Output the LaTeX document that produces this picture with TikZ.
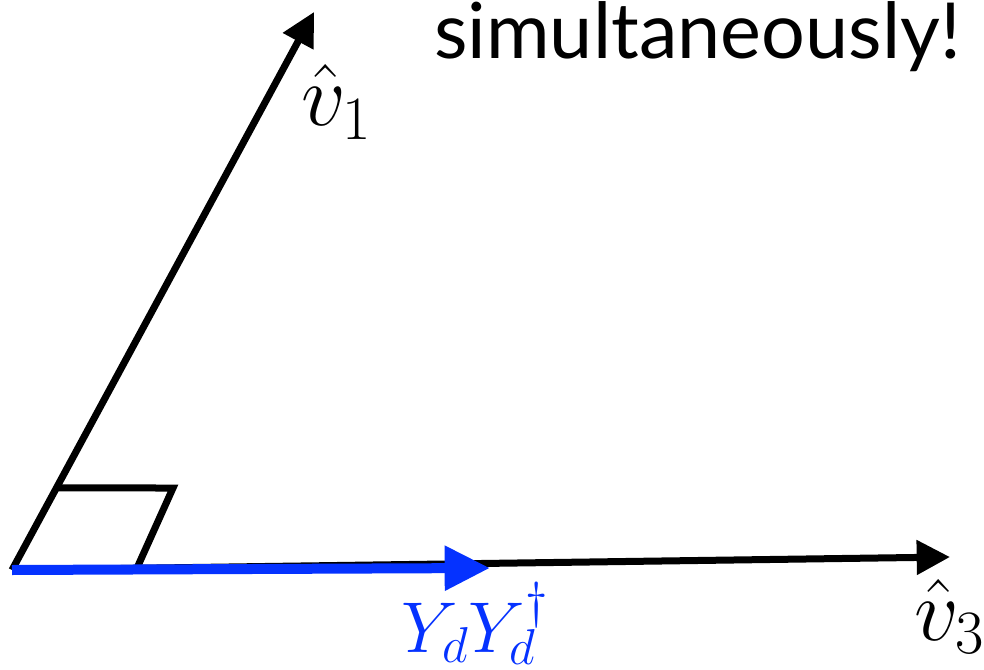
\RequirePackage{fix-cm}
\documentclass[tikz,border=0pt]{standalone}
\usepackage{fontspec}
\newfontfamily\labelsans{Lato}
\usetikzlibrary{arrows.meta,calc}
\definecolor{vecblue}{RGB}{5,50,255}
\begin{document}
\begin{tikzpicture}[x=0.75pt,y=-0.75pt,
  vec/.style={line width=5.25pt,-{Triangle[length=25pt,width=25pt]}},
  bluevec/.style={line width=7.5pt,color=vecblue,-{Triangle[length=34pt,width=32pt]}},
  marker/.style={line width=5.25pt},
  mathlbl/.style={inner sep=0pt,anchor=base west}]
\useasboundingbox (0,0) rectangle (984,670);
\coordinate (O) at (12,570);
\coordinate (A) at (314,12);
\coordinate (B) at (950,557);
\coordinate (C) at (490,568);
\coordinate (M1) at ($(O)!0.147!(A)$);
\coordinate (M2) at (173,488);
\coordinate (M3) at (137,568);
\draw[marker] (M1) -- (M2) -- (M3);
\draw[vec] (O) -- (A);
\draw[vec] (O) -- (B);
\draw[bluevec] (O) -- (C);
\node[mathlbl,font=\fontsize{66}{72}\selectfont] (v1) at (301,126) {$\hat{v}_1$};
\node[mathlbl,font=\fontsize{66}{72}\selectfont] (v3) at (914,640) {$\hat{v}_3$};
\node[mathlbl,font=\fontsize{54}{60}\selectfont,text=vecblue] (yy) at (401,652) {$Y_dY_d^\dagger$};
\node[font=\labelsans\fontsize{58}{64}\selectfont,anchor=base west,inner sep=0pt] (t) at (434,59) {simultaneously!};
\end{tikzpicture}
\end{document}
